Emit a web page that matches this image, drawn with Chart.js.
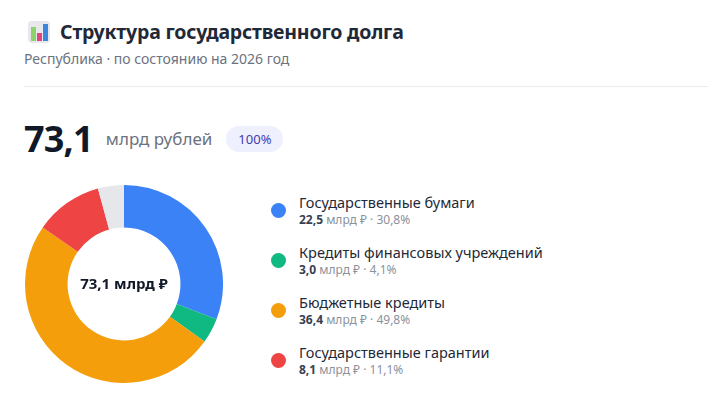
<!DOCTYPE html>
<html lang="ru">
<head>
<meta charset="utf-8">
<script src="https://cdn.jsdelivr.net/npm/chart.js@4"></script>
<style>
  body { margin: 0; background: #fff; font-family: "Noto Sans", "Open Sans", sans-serif; color: #111827; }
  #wrap { position: relative; width: 728px; height: 411px; overflow: hidden; }
  .title { position: absolute; left: 28px; top: 18px; display: flex; align-items: center; }
  .title h1 { margin: 0 0 0 10px; font-size: 19.5px; font-weight: 700; color: #1f2937; letter-spacing: -0.2px; }
  .sub { position: absolute; left: 24px; top: 49px; font-size: 14px; color: #6b7280; }
  .rule { position: absolute; left: 24px; right: 20px; top: 86px; border-top: 1px solid #ececec; }
  .total { position: absolute; left: 24px; top: 114px; display: flex; align-items: center; }
  .total b { font-size: 36px; font-weight: 700; color: #111827; letter-spacing: -0.8px; }
  .total span.unit { margin-left: 13px; font-size: 17px; color: #6b7280; }
  .badge { margin-left: 14px; padding: 4px 12px; border-radius: 14px; background: #eef0fd; color: #3f3cb0; font-size: 13px; }
  #chartBox { position: absolute; left: 25px; top: 185px; width: 198px; height: 198px; }
  #legend { position: absolute; left: 271px; top: 193px; }
  .row { display: flex; align-items: flex-start; height: 50px; }
  .dot { width: 15px; height: 15px; border-radius: 50%; margin-top: 10px; margin-right: 13px; }
  .name { font-size: 14.5px; color: #1f2937; line-height: 18px; }
  .val { font-size: 12px; color: #8b929c; line-height: 17px; }
  .val b { color: #374151; }
</style>
</head>
<body>
<div id="wrap">
  <div class="title">
    <svg width="22" height="22" viewBox="0 0 22 22">
      <rect x="0" y="0" width="22" height="22" rx="4" fill="#e6e8ec"/>
      <rect x="3" y="6" width="5" height="14" fill="#8fd16a"/>
      <rect x="9" y="12" width="5" height="8" fill="#e0457b"/>
      <rect x="15" y="3" width="5" height="17" fill="#3d86e0"/>
    </svg>
    <h1>Структура государственного долга</h1>
  </div>
  <div class="sub">Республика · по состоянию на 2026 год</div>
  <div class="rule"></div>
  <div class="total"><b id="totalNum"></b><span class="unit">млрд рублей</span><span class="badge">100%</span></div>
  <div id="chartBox"><canvas id="donut"></canvas></div>
  <div id="legend"></div>
</div>
<script>
// данные
const categories = ['Государственные бумаги', 'Кредиты финансовых учреждений', 'Бюджетные кредиты', 'Государственные гарантии', 'Прочее'];
const values = [22.5, 3.0, 36.4, 8.1, 3.1];
const shares = [30.8, 4.1, 49.8, 11.1, 4.2];
const colors = ['#3b82f6', '#10b981', '#f59e0b', '#ef4444', '#e5e7eb'];
const total = 73.1;
const legendCount = 4;

const fmt = v => v.toFixed(1).replace('.', ',');

document.getElementById('totalNum').textContent = fmt(total);

// легенда
let html = '';
for (let i = 0; i < legendCount; i++) {
  html += '<div class="row"><div class="dot" style="background:' + colors[i] + '"></div><div>' +
    '<div class="name">' + categories[i] + '</div>' +
    '<div class="val"><b>' + fmt(values[i]) + '</b> млрд ₽ · ' + fmt(shares[i]) + '%</div></div></div>';
}
document.getElementById('legend').innerHTML = html;

Chart.register({
  id: 'centerText',
  afterDatasetsDraw(chart) {
    const ctx = chart.ctx;
    const meta = chart.getDatasetMeta(0).data[0];
    ctx.save();
    ctx.font = 'bold 15px "Noto Sans"';
    ctx.fillStyle = '#111827';
    ctx.textAlign = 'center';
    ctx.textBaseline = 'middle';
    ctx.fillText(fmt(total) + ' млрд ₽', meta.x, meta.y + 1);
    ctx.restore();
  }
});

new Chart(document.getElementById('donut'), {
  type: 'doughnut',
  data: {
    labels: categories,
    datasets: [{ data: values, backgroundColor: colors, borderWidth: 0 }]
  },
  options: {
    responsive: true,
    maintainAspectRatio: false,
    animation: false,
    cutout: '57%',
    plugins: { legend: { display: false }, tooltip: { enabled: false } }
  }
});
</script>
</body>
</html>
